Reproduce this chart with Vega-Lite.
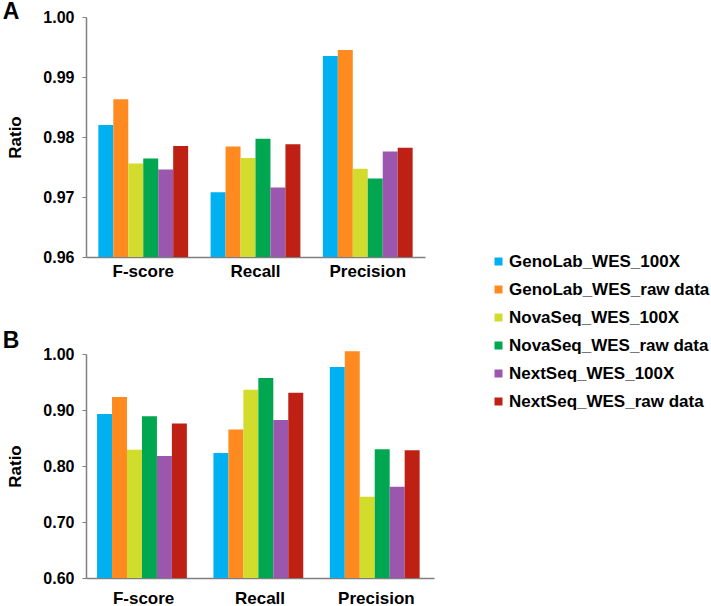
{
  "$schema": "https://vega.github.io/schema/vega-lite/v6.json",
  "padding": {"left": 2, "top": 1, "right": 0, "bottom": 0},
  "config": {
    "font": "Liberation Sans",
    "view": {"stroke": null},
    "axis": {
      "domainColor": "#7f7f7f",
      "domainWidth": 1.5,
      "tickColor": "#7f7f7f",
      "tickSize": 4,
      "labelFont": "Liberation Sans",
      "labelFontSize": 16,
      "labelFontWeight": "bold",
      "labelColor": "#000000",
      "titleFont": "Liberation Sans",
      "titleFontSize": 17,
      "titleFontWeight": "bold",
      "titleColor": "#000000",
      "grid": false
    },
    "title": {"font": "Liberation Sans", "color": "#000000"}
  },
  "data": {
    "values": [
      {"panel": "A", "metric": "F-score", "series": "GenoLab_WES_100X", "value": 0.9820},
      {"panel": "A", "metric": "F-score", "series": "GenoLab_WES_raw data", "value": 0.9863},
      {"panel": "A", "metric": "F-score", "series": "NovaSeq_WES_100X", "value": 0.9756},
      {"panel": "A", "metric": "F-score", "series": "NovaSeq_WES_raw data", "value": 0.9764},
      {"panel": "A", "metric": "F-score", "series": "NextSeq_WES_100X", "value": 0.9746},
      {"panel": "A", "metric": "F-score", "series": "NextSeq_WES_raw data", "value": 0.9785},
      {"panel": "A", "metric": "Recall", "series": "GenoLab_WES_100X", "value": 0.9708},
      {"panel": "A", "metric": "Recall", "series": "GenoLab_WES_raw data", "value": 0.9784},
      {"panel": "A", "metric": "Recall", "series": "NovaSeq_WES_100X", "value": 0.9765},
      {"panel": "A", "metric": "Recall", "series": "NovaSeq_WES_raw data", "value": 0.9797},
      {"panel": "A", "metric": "Recall", "series": "NextSeq_WES_100X", "value": 0.9716},
      {"panel": "A", "metric": "Recall", "series": "NextSeq_WES_raw data", "value": 0.9788},
      {"panel": "A", "metric": "Precision", "series": "GenoLab_WES_100X", "value": 0.9935},
      {"panel": "A", "metric": "Precision", "series": "GenoLab_WES_raw data", "value": 0.9945},
      {"panel": "A", "metric": "Precision", "series": "NovaSeq_WES_100X", "value": 0.9747},
      {"panel": "A", "metric": "Precision", "series": "NovaSeq_WES_raw data", "value": 0.9731},
      {"panel": "A", "metric": "Precision", "series": "NextSeq_WES_100X", "value": 0.9776},
      {"panel": "A", "metric": "Precision", "series": "NextSeq_WES_raw data", "value": 0.9782},
      {"panel": "B", "metric": "F-score", "series": "GenoLab_WES_100X", "value": 0.893},
      {"panel": "B", "metric": "F-score", "series": "GenoLab_WES_raw data", "value": 0.923},
      {"panel": "B", "metric": "F-score", "series": "NovaSeq_WES_100X", "value": 0.829},
      {"panel": "B", "metric": "F-score", "series": "NovaSeq_WES_raw data", "value": 0.889},
      {"panel": "B", "metric": "F-score", "series": "NextSeq_WES_100X", "value": 0.818},
      {"panel": "B", "metric": "F-score", "series": "NextSeq_WES_raw data", "value": 0.876},
      {"panel": "B", "metric": "Recall", "series": "GenoLab_WES_100X", "value": 0.823},
      {"panel": "B", "metric": "Recall", "series": "GenoLab_WES_raw data", "value": 0.865},
      {"panel": "B", "metric": "Recall", "series": "NovaSeq_WES_100X", "value": 0.936},
      {"panel": "B", "metric": "Recall", "series": "NovaSeq_WES_raw data", "value": 0.957},
      {"panel": "B", "metric": "Recall", "series": "NextSeq_WES_100X", "value": 0.882},
      {"panel": "B", "metric": "Recall", "series": "NextSeq_WES_raw data", "value": 0.931},
      {"panel": "B", "metric": "Precision", "series": "GenoLab_WES_100X", "value": 0.977},
      {"panel": "B", "metric": "Precision", "series": "GenoLab_WES_raw data", "value": 1.005},
      {"panel": "B", "metric": "Precision", "series": "NovaSeq_WES_100X", "value": 0.745},
      {"panel": "B", "metric": "Precision", "series": "NovaSeq_WES_raw data", "value": 0.830},
      {"panel": "B", "metric": "Precision", "series": "NextSeq_WES_100X", "value": 0.763},
      {"panel": "B", "metric": "Precision", "series": "NextSeq_WES_raw data", "value": 0.828}
    ]
  },
  "spacing": 51,
  "vconcat": [
    {
      "width": 339,
      "height": 240,
      "title": {"text": "A", "anchor": "start", "frame": "bounds", "fontSize": 23, "fontWeight": "bold", "offset": -15, "dx": -4},
      "transform": [{"filter": "datum.panel === 'A'"}],
      "mark": {"type": "bar"},
      "encoding": {
        "x": {
          "field": "metric", "type": "nominal",
          "sort": ["F-score", "Recall", "Precision"],
          "scale": {"paddingInner": 0.2, "paddingOuter": 0.11},
          "axis": {"title": null, "labelAngle": 0, "ticks": false, "labelPadding": 6, "labelFontSize": 17}
        },
        "xOffset": {
          "field": "series", "type": "nominal",
          "sort": ["GenoLab_WES_100X", "GenoLab_WES_raw data", "NovaSeq_WES_100X", "NovaSeq_WES_raw data", "NextSeq_WES_100X", "NextSeq_WES_raw data"],
          "scale": {"paddingInner": 0, "paddingOuter": 0}
        },
        "y": {
          "field": "value", "type": "quantitative",
          "scale": {"domain": [0.96, 1.0], "zero": false, "nice": false},
          "axis": {"title": "Ratio", "values": [0.96, 0.97, 0.98, 0.99, 1.0], "format": ".2f", "labelPadding": 8, "titlePadding": 18}
        },
        "y2": {"datum": 0.96},
        "color": {
          "field": "series", "type": "nominal",
          "sort": ["GenoLab_WES_100X", "GenoLab_WES_raw data", "NovaSeq_WES_100X", "NovaSeq_WES_raw data", "NextSeq_WES_100X", "NextSeq_WES_raw data"],
          "scale": {
            "domain": ["GenoLab_WES_100X", "GenoLab_WES_raw data", "NovaSeq_WES_100X", "NovaSeq_WES_raw data", "NextSeq_WES_100X", "NextSeq_WES_raw data"],
            "range": ["#00B0F0", "#FF8A1F", "#D2DC2C", "#00A650", "#9B57AE", "#BE2014"]
          },
          "legend": {
            "title": null, "orient": "none", "legendX": 404, "legendY": 236,
            "symbolType": "square", "symbolSize": 64, "symbolStrokeWidth": 0,
            "labelFont": "Liberation Sans", "labelFontSize": 17, "labelFontWeight": "bold", "labelColor": "#000000",
            "labelLimit": 400, "rowPadding": 10, "labelOffset": 2
          }
        }
      }
    },
    {
      "width": 348,
      "height": 224,
      "title": {"text": "B", "anchor": "start", "frame": "bounds", "fontSize": 23, "fontWeight": "bold", "offset": -7, "dx": -4},
      "transform": [{"filter": "datum.panel === 'B'"}],
      "mark": {"type": "bar"},
      "encoding": {
        "x": {
          "field": "metric", "type": "nominal",
          "sort": ["F-score", "Recall", "Precision"],
          "scale": {"paddingInner": 0.2, "paddingOuter": 0.095},
          "axis": {"title": null, "labelAngle": 0, "ticks": false, "labelPadding": 12, "labelFontSize": 17}
        },
        "xOffset": {
          "field": "series", "type": "nominal",
          "sort": ["GenoLab_WES_100X", "GenoLab_WES_raw data", "NovaSeq_WES_100X", "NovaSeq_WES_raw data", "NextSeq_WES_100X", "NextSeq_WES_raw data"],
          "scale": {"paddingInner": 0, "paddingOuter": 0}
        },
        "y": {
          "field": "value", "type": "quantitative",
          "scale": {"domain": [0.6, 1.0], "zero": false, "nice": false},
          "axis": {"title": "Ratio", "values": [0.6, 0.7, 0.8, 0.9, 1.0], "format": ".2f", "labelPadding": 8, "titlePadding": 18}
        },
        "y2": {"datum": 0.6},
        "color": {
          "field": "series", "type": "nominal",
          "sort": ["GenoLab_WES_100X", "GenoLab_WES_raw data", "NovaSeq_WES_100X", "NovaSeq_WES_raw data", "NextSeq_WES_100X", "NextSeq_WES_raw data"],
          "scale": {
            "domain": ["GenoLab_WES_100X", "GenoLab_WES_raw data", "NovaSeq_WES_100X", "NovaSeq_WES_raw data", "NextSeq_WES_100X", "NextSeq_WES_raw data"],
            "range": ["#00B0F0", "#FF8A1F", "#D2DC2C", "#00A650", "#9B57AE", "#BE2014"]
          },
          "legend": {
            "title": null, "orient": "none", "legendX": 404, "legendY": 236,
            "symbolType": "square", "symbolSize": 64, "symbolStrokeWidth": 0,
            "labelFont": "Liberation Sans", "labelFontSize": 17, "labelFontWeight": "bold", "labelColor": "#000000",
            "labelLimit": 400, "rowPadding": 10, "labelOffset": 2
          }
        }
      }
    }
  ]
}
